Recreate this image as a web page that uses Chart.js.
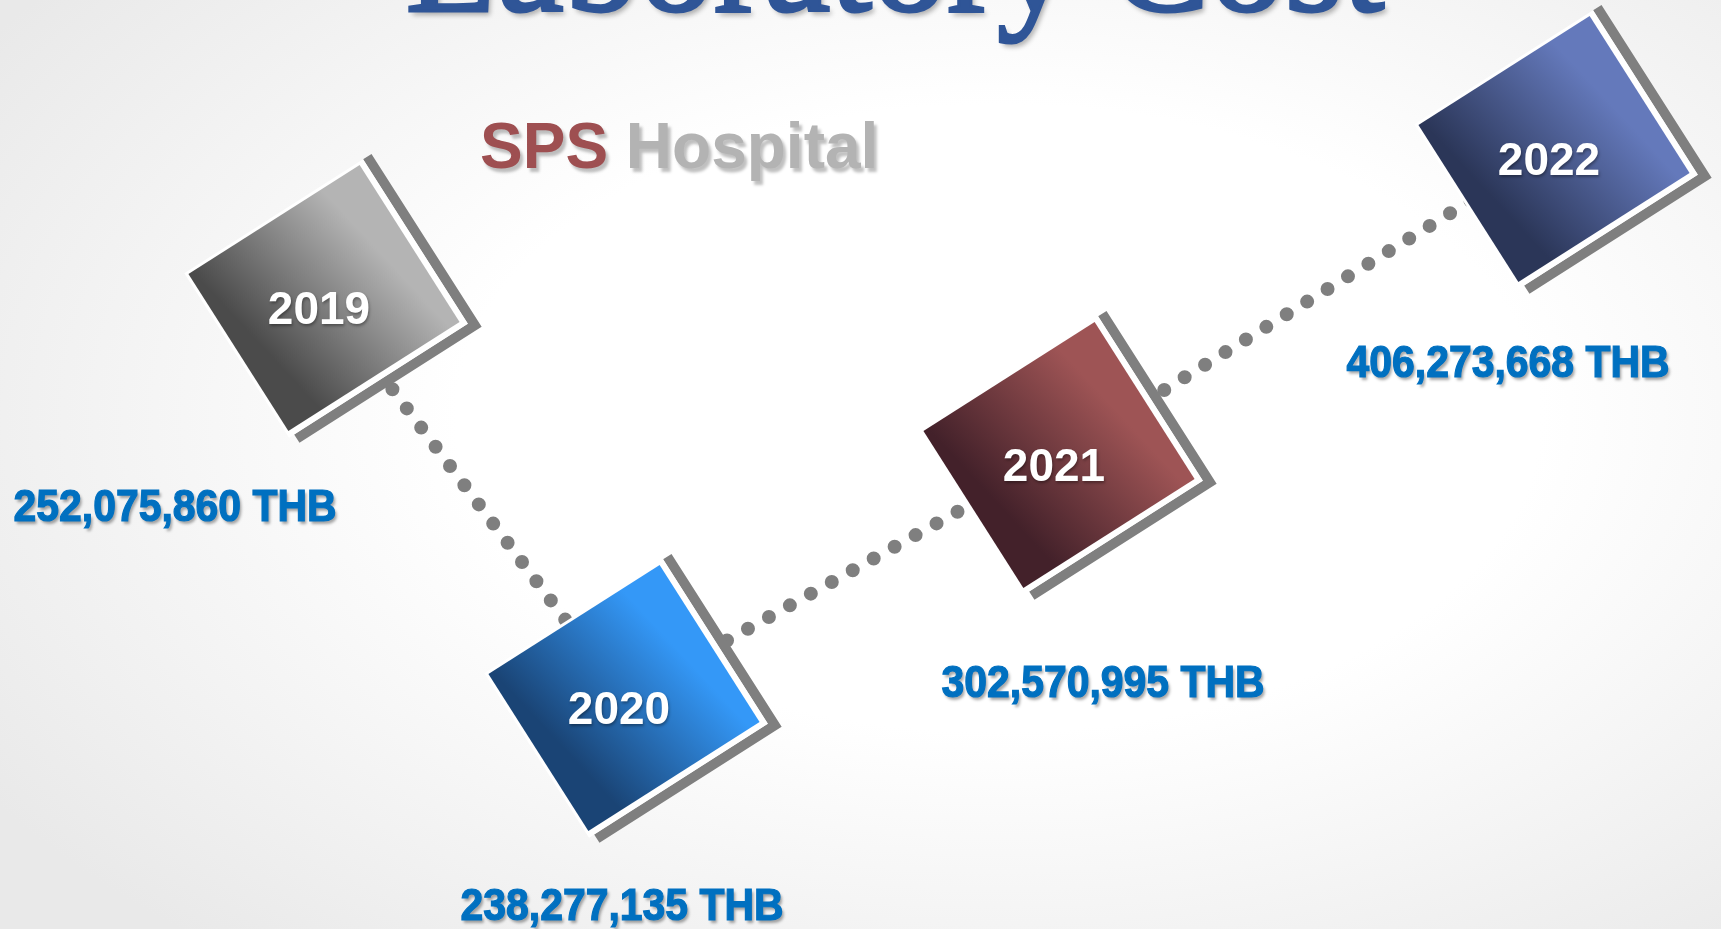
<!DOCTYPE html>
<html>
<head>
<meta charset="utf-8">
<title>Laboratory Cost</title>
<script src="https://cdn.jsdelivr.net/npm/chart.js@4.4.1/dist/chart.umd.min.js"></script>
<style>
  html, body { margin: 0; padding: 0; }
  body {
    width: 1721px; height: 929px; overflow: hidden;
    background: radial-gradient(ellipse 70% 75% at 58% 45%, #ffffff 45%, #e9e9e9 100%);
  }
  canvas { display: block; }
</style>
</head>
<body>
<canvas id="costChart" width="1721" height="929"></canvas>
<script>
const years = ['2019', '2020', '2021', '2022'];
const costs = [252075860, 238277135, 302570995, 406273668];

// where each year tile sits on the slide (slide units, 1721 x 929)
const tileX = [324, 624, 1059, 1554];
const tileY = [298, 698, 455, 149];
// where the THB amount is written under each tile
const labelX = [175, 622, 1103, 1508];
const labelY = [521, 920, 697, 377];

const tileDark = ['#4b4b4b', '#1a4475', '#43212a', '#2b3658'];
const tileLight = ['#b4b4b4', '#3498f7', '#9e5455', '#6479bb'];

function fmt(n) {
  return n.toLocaleString('en-US') + ' THB';
}

function drawTile(ctx, x, y, i) {
  const w = 203, h = 186;
  ctx.save();
  ctx.translate(x, y);
  ctx.rotate(-32.5 * Math.PI / 180);

  // grey L frame on the right and bottom side
  ctx.strokeStyle = '#7f7f7f';
  ctx.lineWidth = 10;
  ctx.lineJoin = 'miter';
  ctx.beginPath();
  ctx.moveTo(w / 2 + 11, -h / 2 - 3);
  ctx.lineTo(w / 2 + 11, h / 2 + 11);
  ctx.lineTo(-w / 2 + 3, h / 2 + 11);
  ctx.stroke();

  // white band round the tile
  ctx.fillStyle = '#ffffff';
  ctx.fillRect(-w / 2 - 3, -h / 2 - 3, w + 9, h + 9);

  const g = ctx.createLinearGradient(-w / 2, h * 0.1, w / 2, -h * 0.1);
  g.addColorStop(0, tileDark[i]);
  g.addColorStop(0.12, tileDark[i]);
  g.addColorStop(0.85, tileLight[i]);
  g.addColorStop(1, tileLight[i]);
  ctx.fillStyle = g;
  ctx.fillRect(-w / 2, -h / 2, w, h);
  ctx.restore();

  // year text (not rotated)
  ctx.save();
  ctx.font = 'bold 46px "Liberation Sans", Arial, sans-serif';
  ctx.textAlign = 'center';
  ctx.textBaseline = 'alphabetic';
  ctx.shadowColor = 'rgba(0,0,0,0.35)';
  ctx.shadowBlur = 3;
  ctx.shadowOffsetX = 1;
  ctx.shadowOffsetY = 2;
  ctx.fillStyle = '#ffffff';
  ctx.fillText(years[i], x - 5, y + 26);
  ctx.restore();
}

const slidePlugin = {
  id: 'slide',
  beforeDatasetsDraw(chart) {
    const ctx = chart.ctx;
    ctx.save();
    // title, mostly above the visible area
    ctx.font = '150px "Liberation Serif", "Times New Roman", serif';
    ctx.textAlign = 'center';
    ctx.textBaseline = 'alphabetic';
    ctx.shadowColor = 'rgba(0,0,0,0.3)';
    ctx.shadowBlur = 5;
    ctx.shadowOffsetX = 3;
    ctx.shadowOffsetY = 4;
    ctx.fillStyle = '#2f5597';
    ctx.strokeStyle = '#2f5597';
    ctx.lineWidth = 3;
    ctx.fillText('Laboratory Cost', 895, 11);
    ctx.shadowColor = 'transparent';
    ctx.strokeText('Laboratory Cost', 895, 11);

    // subtitle
    ctx.font = 'bold 64px "Liberation Sans", Arial, sans-serif';
    ctx.textAlign = 'left';
    ctx.shadowColor = 'rgba(0,0,0,0.25)';
    ctx.shadowBlur = 3;
    ctx.shadowOffsetX = 3;
    ctx.shadowOffsetY = 4;
    ctx.fillStyle = '#9e4f51';
    ctx.fillText('SPS', 480, 168);
    const sw = ctx.measureText('SPS ').width;
    ctx.fillStyle = '#b3b3b3';
    ctx.fillText('Hospital', 480 + sw, 168);
    ctx.restore();
  },
  afterDatasetsDraw(chart) {
    const ctx = chart.ctx;
    const meta = chart.getDatasetMeta(1);
    meta.data.forEach((pt, i) => drawTile(ctx, pt.x, pt.y, i));

    // amounts: heavy, a bit condensed
    const xs = chart.scales.x, ys = chart.scales.y;
    costs.forEach((c, i) => {
      ctx.save();
      ctx.translate(xs.getPixelForValue(labelX[i]), ys.getPixelForValue(labelY[i]));
      ctx.scale(0.93, 1);
      ctx.font = 'bold 44px "Liberation Sans", Arial, sans-serif';
      ctx.textAlign = 'center';
      ctx.textBaseline = 'alphabetic';
      ctx.shadowColor = 'rgba(0,0,0,0.35)';
      ctx.shadowBlur = 3;
      ctx.shadowOffsetX = 2;
      ctx.shadowOffsetY = 3;
      ctx.fillStyle = '#0070c0';
      ctx.fillText(fmt(c), 0, 0);
      ctx.shadowColor = 'transparent';
      ctx.strokeStyle = '#0070c0';
      ctx.lineWidth = 1.2;
      ctx.strokeText(fmt(c), 0, 0);
      ctx.restore();
    });
  }
};

const points = years.map((yr, i) => ({ x: tileX[i], y: tileY[i] }));

new Chart(document.getElementById('costChart'), {
  type: 'scatter',
  data: {
    datasets: [
      {
        type: 'line',
        label: 'trend',
        data: points,
        showLine: true,
        borderColor: '#7f7f7f',
        borderWidth: 14,
        borderDash: [0, 24],
        borderDashOffset: 6,
        borderCapStyle: 'round',
        pointRadius: 0,
        tension: 0,
        fill: false
      },
      {
        label: 'Laboratory cost (THB)',
        data: points,
        pointRadius: 0,
        pointHoverRadius: 0
      }
    ]
  },
  options: {
    responsive: false,
    devicePixelRatio: 1,
    animation: false,
    events: [],
    layout: { padding: 0 },
    scales: {
      x: { type: 'linear', min: 0, max: 1721, display: false },
      y: { type: 'linear', min: 0, max: 929, reverse: true, display: false }
    },
    plugins: {
      legend: { display: false },
      tooltip: { enabled: false }
    }
  },
  plugins: [slidePlugin]
});
</script>
</body>
</html>
